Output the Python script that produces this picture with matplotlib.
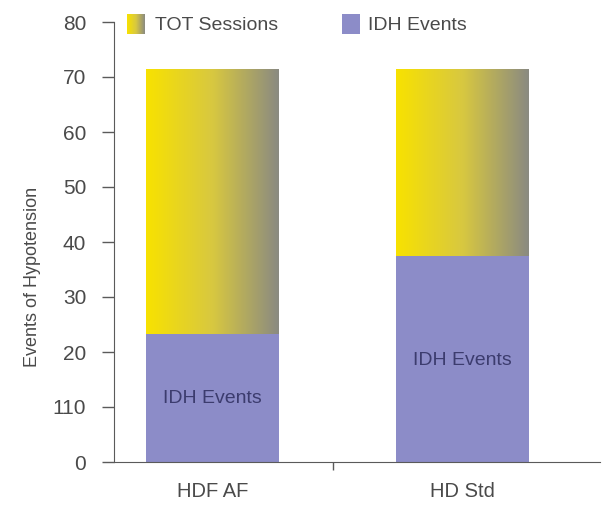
import matplotlib
matplotlib.use("Agg")
import matplotlib.pyplot as plt
import numpy as np
from matplotlib.patches import Rectangle
from matplotlib.colors import LinearSegmentedColormap

categories = ["HDF AF", "HD Std"]
tot_sessions = [71.5, 71.5]
idh_events = [23.3, 37.5]
ytick_vals = [0, 10, 20, 30, 40, 50, 60, 70, 80]
ytick_labels = ["0", "110", "20", "30", "40", "50", "60", "70", "80"]
idh_label_y = [11.6, 18.5]

plt.rcParams['font.family'] = ['Liberation Sans', 'DejaVu Sans']

purple = "#8c8cc8"
txt = "#4a4a4a"
axc = "#5a5a5a"

fig = plt.figure(figsize=(6.08, 5.05), dpi=100)
ax = fig.add_axes([114/608, 1-462/505, (600-114)/608, (462-22)/505])

x = np.arange(len(categories))
width = 0.53
grad = np.linspace(0, 1, 256).reshape(1, -1)
cmap = LinearSegmentedColormap.from_list("yg", ["#f8e200", "#d8c840", "#8a8a82"])

for i in range(len(categories)):
    x0 = x[i] - width/2
    rect = Rectangle((x0, 0), width, tot_sessions[i], facecolor="none", edgecolor="none")
    ax.add_patch(rect)
    im = ax.imshow(grad, aspect="auto", cmap=cmap,
                   extent=(x0, x0 + width, 0, tot_sessions[i]), zorder=1)
    im.set_clip_path(rect)
    ax.bar(x[i], idh_events[i], width, color=purple, zorder=2)
    ax.text(x[i], idh_label_y[i], "IDH Events", ha="center", va="center",
            fontsize=14, color="#3c3c6e", zorder=3)

ax.set_xlim(-0.395, 1.55)
ax.set_ylim(0, 80)
ax.set_yticks(ytick_vals)
ax.set_yticklabels(ytick_labels)
ax.set_xticks([0.48])
ax.set_xticklabels([""])
for i, c in enumerate(categories):
    ax.text(x[i], -3.6, c, ha="center", va="top", fontsize=14.5, color=txt)
ax.tick_params(axis="y", length=9, color=axc, width=1, pad=11,
               labelsize=15, labelcolor=txt)
ax.tick_params(axis="x", length=6, color=axc, width=1)
for s in ["top", "right"]:
    ax.spines[s].set_visible(False)
ax.spines["left"].set_color(axc)
ax.spines["bottom"].set_color(axc)
ax.set_ylabel("Events of Hypotension", fontsize=13, color=txt)
ax.yaxis.set_label_coords(-0.15, 0.42)

# legend
lax = fig.add_axes([127/608, 1-34/505, 18/608, 20/505])
lax.imshow(grad, aspect="auto", cmap=cmap)
lax.axis("off")
fig.text(155/608, 1-25/505, "TOT Sessions", fontsize=14, color=txt, va="center")
fig.patches.append(Rectangle((342/608, 1-34/505), 18/608, 20/505, transform=fig.transFigure,
                             facecolor=purple, edgecolor="none"))
fig.text(368/608, 1-25/505, "IDH Events", fontsize=14, color=txt, va="center")

fig.savefig("out.png", dpi=100)
